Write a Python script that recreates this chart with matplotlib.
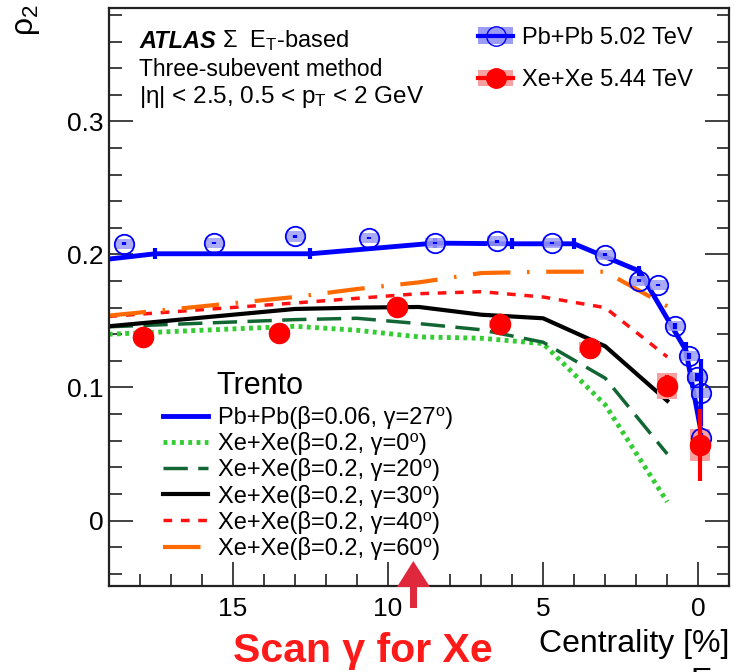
import matplotlib
matplotlib.use("Agg")
import matplotlib.pyplot as plt
from matplotlib.patches import Rectangle, Patch
from matplotlib.lines import Line2D
from matplotlib.ticker import MultipleLocator

plt.rcParams['font.family'] = ['Liberation Sans', 'DejaVu Sans']
plt.rcParams['mathtext.fontset'] = 'custom'
plt.rcParams['mathtext.rm'] = 'Liberation Sans'
plt.rcParams['mathtext.it'] = 'Liberation Sans:italic'
plt.rcParams['mathtext.bf'] = 'Liberation Sans:bold'

# ATLAS Pb+Pb 5.02 TeV
pb_cent = [18.5, 15.6, 13.0, 10.6, 8.5, 6.5, 4.7, 3.0, 1.9, 1.3, 0.75, 0.3, 0.05, -0.08, -0.08]
pb_rho = [0.208, 0.2086, 0.2135, 0.2123, 0.2086, 0.2098, 0.2086, 0.1999, 0.1802,
          0.1771, 0.1462, 0.1236, 0.1082, 0.0961, 0.0620]
pb_stat = [0.001, 0.001, 0.001, 0.001, 0.001, 0.001, 0.001, 0.001, 0.001,
           0.001, 0.002, 0.002, 0.003, 0.025, 0.004]
pb_syst = [0.0038] * 15

# ATLAS Xe+Xe 5.44 TeV
xe_cent = [17.9, 13.5, 9.7, 6.4, 3.5, 1.0, -0.05]
xe_rho = [0.138, 0.141, 0.1605, 0.148, 0.130, 0.101, 0.057]
xe_stat = [0.002, 0.002, 0.002, 0.002, 0.003, 0.008, 0.027]
xe_syst = [0.003, 0.003, 0.003, 0.003, 0.004, 0.0095, 0.012]

# Trento Pb+Pb
tr_pb_cent = [19.0, 17.5, 12.5, 8.5, 6.0, 4.0, 1.9, 0.4, -0.15]
tr_pb_rho = [0.1965, 0.2005, 0.2005, 0.2085, 0.208, 0.208, 0.1875, 0.128, 0.059]
tr_pb_err = [0.0, 0.004, 0.004, 0.004, 0.004, 0.004, 0.004, 0.006, 0.0]

# Trento Xe+Xe, beta=0.2, different gamma
tr_xe_cent = [19, 13, 11, 9, 7, 5, 3, 1]
tr_g0 = [0.140, 0.146, 0.143, 0.138, 0.137, 0.133, 0.087, 0.014]
tr_g20 = [0.1456, 0.151, 0.152, 0.148, 0.1434, 0.134, 0.107, 0.050]
tr_g30 = [0.146, 0.159, 0.160, 0.1605, 0.1547, 0.152, 0.131, 0.090]
tr_g40 = [0.1534, 0.1635, 0.167, 0.1705, 0.172, 0.168, 0.160, 0.123]
tr_g60 = [0.154, 0.168, 0.174, 0.179, 0.186, 0.187, 0.187, 0.161]

W, H = 736, 672
fig = plt.figure(figsize=(W / 100, H / 100), dpi=100)
ax = fig.add_axes([108.7 / W, 1 - 585.7 / H, (729.3 - 108.7) / W, (585.7 - 8.3) / H])

# model curves
h_g0, = ax.plot(tr_xe_cent, tr_g0, color='#33cc33', lw=3.5, ls=(0, (0.8, 0.9)))
h_g20, = ax.plot(tr_xe_cent, tr_g20, color='#116633', lw=2.5, ls=(0, (7, 3)))
h_g30, = ax.plot(tr_xe_cent, tr_g30, color='black', lw=3)
h_g40, = ax.plot(tr_xe_cent, tr_g40, color='#ff1111', lw=2.5, ls=(0, (2.5, 2.5)))
h_g60, = ax.plot(tr_xe_cent, tr_g60, color='#ff6a00', lw=3, ls=(0, (9, 4, 0.6, 4)))
h_pb, = ax.plot(tr_pb_cent, tr_pb_rho, color='#0000ff', lw=3.5)
ax.errorbar(tr_pb_cent, tr_pb_rho, yerr=tr_pb_err, fmt='none', ecolor='#0000ff', elinewidth=3)

# systematic boxes
for c, r, s in zip(pb_cent, pb_rho, pb_syst):
    ax.add_patch(Rectangle((c - 0.3, r - s), 0.6, 2 * s, facecolor='#9c9cf5', edgecolor='none', alpha=0.85, zorder=3))
for c, r, s in zip(xe_cent, xe_rho, xe_syst):
    ax.add_patch(Rectangle((c - 0.33, r - s), 0.66, 2 * s, facecolor='#f7a0a0', edgecolor='none', zorder=3))

ax.errorbar(pb_cent, pb_rho, yerr=pb_stat, fmt='o', ms=14, mfc='none', mec='#0000ff', mew=1.3,
            ecolor='#0000ff', elinewidth=3, zorder=5)
ax.errorbar(xe_cent, xe_rho, yerr=xe_stat, fmt='o', ms=14.5, mfc='#ff0000', mec='#ff0000',
            ecolor='#ff0000', elinewidth=3, zorder=6)

ax.set_xlim(19, -1)
ax.set_ylim(-0.049, 0.385)
ax.xaxis.set_major_locator(MultipleLocator(5))
ax.xaxis.set_minor_locator(MultipleLocator(1))
ax.yaxis.set_major_locator(MultipleLocator(0.1))
ax.yaxis.set_minor_locator(MultipleLocator(0.02))
ax.set_xticks([15, 10, 5, 0])
ax.set_xticklabels(['15', '10', '5', '0'])
ax.set_yticks([0, 0.1, 0.2, 0.3])
ax.set_yticklabels(['0', '0.1', '0.2', '0.3'])
ax.tick_params(which='both', direction='in', right=True, top=False, labelsize=19, width=1.3, color='#333333')
ax.tick_params(which='major', length=17)
ax.tick_params(which='minor', length=9)
ax.tick_params(axis='x', pad=8)
for sp in ax.spines.values():
    sp.set_linewidth(1.6)
    sp.set_color('#222222')

fig.text(27 / W, 1 - 20 / H, 'ρ$_{2}$', fontsize=23, rotation=90, ha='center', va='center')
ax.set_xlabel('Centrality [%]', fontsize=23, loc='right', labelpad=6)
fig.text(690 / W, 1 - 667 / H, r'E$_{\mathrm{T}}$', fontsize=23, ha='left', va='top')

# ATLAS label
ax.text(139 / W, 1 - 41 / H, 'ATLAS', transform=fig.transFigure, fontsize=17, fontweight='bold',
        style='italic', va='center')
ax.text(222 / W, 1 - 41 / H, r'$\Sigma$  E$_{\mathrm{T}}$-based', transform=fig.transFigure, fontsize=17, va='center')
ax.text(139 / W, 1 - 70 / H, 'Three-subevent method', transform=fig.transFigure, fontsize=16.5, va='center')
ax.text(139 / W, 1 - 97 / H, r'|η| < 2.5, 0.5 < p$_{\mathrm{T}}$ < 2 GeV', transform=fig.transFigure,
        fontsize=17.5, va='center')

# data legend
pb_handle = (Patch(facecolor='#9c9cf5', edgecolor='none'),
             Line2D([], [], color='#0000ff', lw=3, marker='o', ms=14, mfc='none', mec='#0000ff'))
xe_handle = (Patch(facecolor='#f7a0a0', edgecolor='none'),
             Line2D([], [], color='#ff0000', lw=3, marker='o', ms=14, mfc='#ff0000', mec='#ff0000'))
leg1 = ax.legend([pb_handle, xe_handle], ['Pb+Pb 5.02 TeV', 'Xe+Xe 5.44 TeV'], loc='upper left',
                 bbox_to_anchor=(478 / W, 1 - 27 / H), bbox_transform=fig.transFigure, frameon=False,
                 fontsize=17, handlelength=1.5, handletextpad=0.35, labelspacing=0.85,
                 borderpad=0, borderaxespad=0)
ax.add_artist(leg1)

# Trento legend
ax.text(216 / W, 1 - 386 / H, 'Trento', transform=fig.transFigure, fontsize=22, va='center')
labels = ['Pb+Pb(β=0.06, γ=27⁰)', 'Xe+Xe(β=0.2, γ=0⁰)', 'Xe+Xe(β=0.2, γ=20⁰)',
          'Xe+Xe(β=0.2, γ=30⁰)', 'Xe+Xe(β=0.2, γ=40⁰)', 'Xe+Xe(β=0.2, γ=60⁰)']
ax.legend([h_pb, h_g0, h_g20, h_g30, h_g40, h_g60], labels, loc='upper left',
          bbox_to_anchor=(163 / W, 1 - 406 / H), bbox_transform=fig.transFigure, frameon=False,
          fontsize=17, handlelength=1.9, handletextpad=0.42, labelspacing=0.135,
          borderpad=0, borderaxespad=0)

# annotation
fig.patches.append(plt.Polygon([[397 / W, 1 - 587 / H], [413.3 / W, 1 - 561 / H], [430 / W, 1 - 587 / H],
                                [417 / W, 1 - 587 / H], [417 / W, 1 - 608 / H], [410 / W, 1 - 608 / H],
                                [410 / W, 1 - 587 / H]], closed=True, transform=fig.transFigure,
                               facecolor='#e0283c', edgecolor='none'))
fig.text(363 / W, 1 - 651 / H, 'Scan γ for Xe', fontsize=29.5, fontweight='bold', color='#ff1a1a',
         ha='center', va='center')

fig.savefig('out.png', dpi=100)
